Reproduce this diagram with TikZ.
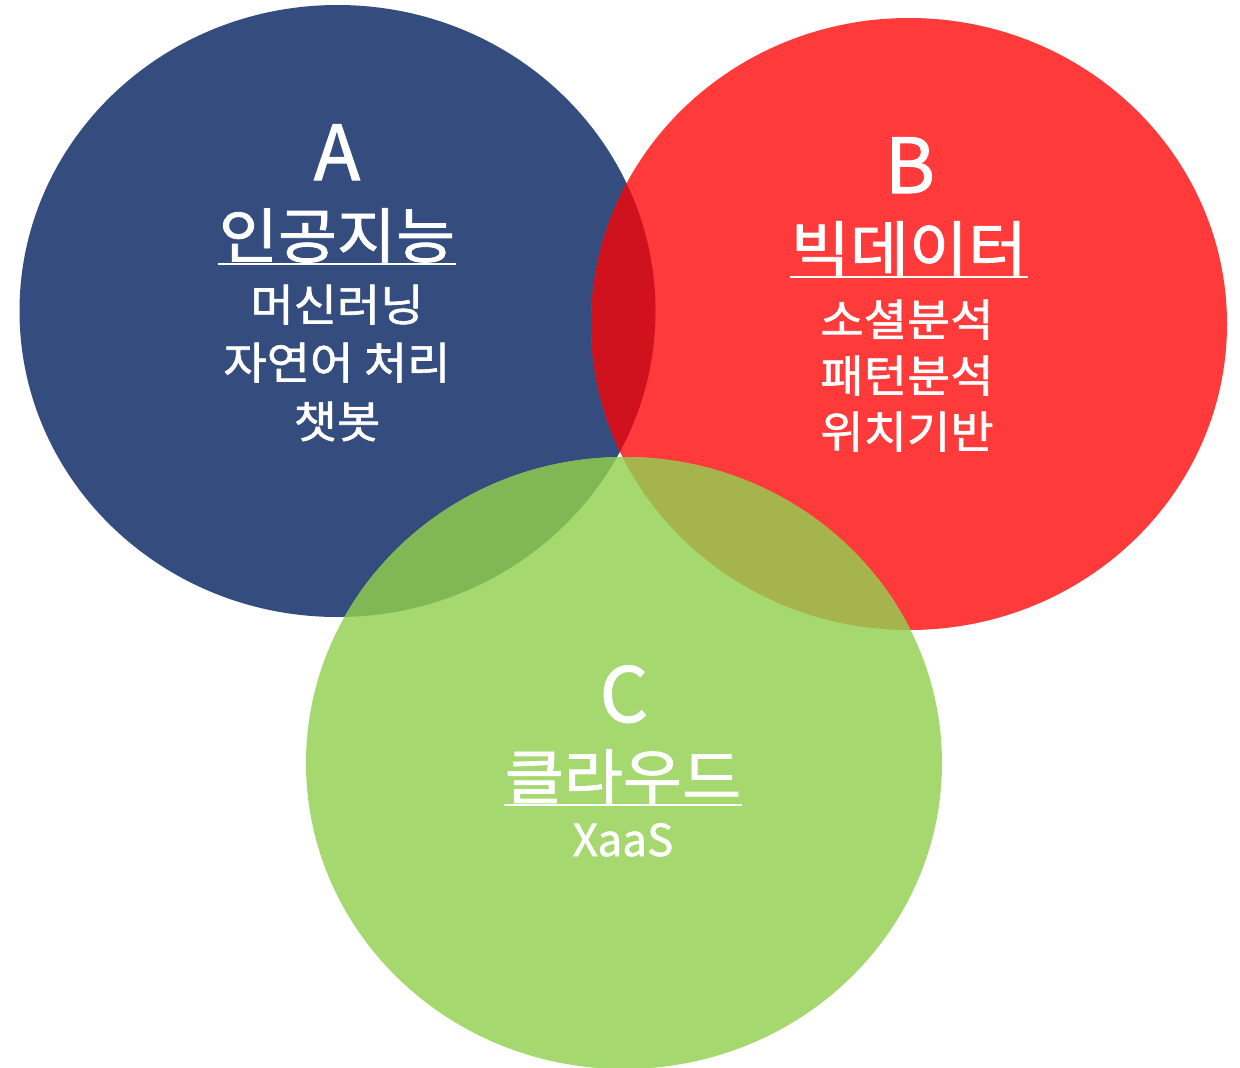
\documentclass[tikz,border=0pt]{standalone}
\usepackage{fontspec}
\newfontfamily\kr[FakeBold=1.4,FakeStretch=1.07]{Noto Sans CJK KR}
\newfontfamily\krl[FakeBold=1.4]{Noto Sans CJK KR}
\usetikzlibrary{calc}
\definecolor{cA}{RGB}{52,76,126}
\definecolor{cB}{RGB}{255,58,58}
\definecolor{cC}{RGB}{166,216,112}
\definecolor{cAB}{RGB}{208,17,30}
\definecolor{cAC}{RGB}{128,184,86}
\definecolor{cBC}{RGB}{166,180,77}
\tikzset{
  big/.style={anchor=base,inner sep=0pt,text=white,font=\krl\fontsize{76}{76}\selectfont},
  head/.style={anchor=base,inner sep=0pt,text=white,font=\kr\fontsize{60}{60}\selectfont},
  item/.style={anchor=base,inner sep=0pt,text=white,font=\kr\fontsize{44}{44}\selectfont},
  latin/.style={anchor=base,inner sep=0pt,text=white,font=\krl\fontsize{44}{44}\selectfont},
  uline/.style={draw=white,line width=2.6pt},
}
\begin{document}
\begin{tikzpicture}[x=1pt,y=-1pt]
\useasboundingbox (0,0) rectangle (1240,1068);
\def\ellA{(337.5,311) ellipse [x radius=318,y radius=306]}
\def\ellB{(909,324) ellipse [x radius=318,y radius=306]}
\def\ellC{(624,763) ellipse [x radius=318,y radius=306]}
\fill[cA] \ellA;
\fill[cB] \ellB;
\fill[cC] \ellC;
\begin{scope}
  \clip \ellA;
  \fill[cAB] \ellB;
  \fill[cAC] \ellC;
\end{scope}
\begin{scope}
  \clip \ellB;
  \fill[cBC] \ellC;
\end{scope}
% A
\node[big] (aL) at (337,180) {A};
\node[head] (aH) at (337,258) {인공지능};
\draw[uline] ($(aH.base west)+(-1,6)$) -- ($(aH.base east)+(1,6)$);
\node[item] (a1) at (337,321) {머신러닝};
\node[item] (a2) at (337,379) {자연어 처리};
\node[item] (a3) at (337,438) {챗봇};
% B
\node[big] (bL) at (910,193) {B};
\node[head] (bH) at (909,271) {빅데이터};
\draw[uline] ($(bH.base west)+(-1,6)$) -- ($(bH.base east)+(1,6)$);
\node[item] (b1) at (907,336) {소셜분석};
\node[item] (b2) at (907,392) {패턴분석};
\node[item] (b3) at (907,448) {위치기반};
% C
\node[big] (cL) at (624,722) {C};
\node[head] (cH) at (623,799) {클라우드};
\draw[uline] ($(cH.base west)+(-1,6)$) -- ($(cH.base east)+(1,6)$);
\node[latin] (c1) at (623,856) {XaaS};
\end{tikzpicture}
\end{document}
